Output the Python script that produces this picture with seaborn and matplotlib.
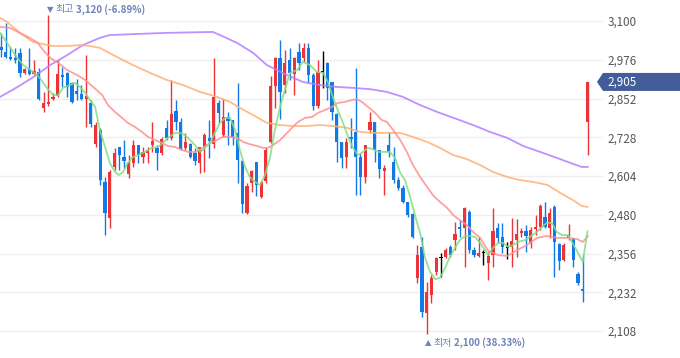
import numpy as np
import pandas as pd
import matplotlib
matplotlib.use("Agg")
import matplotlib.pyplot as plt
from matplotlib.patches import Polygon
from matplotlib.transforms import IdentityTransform
import seaborn as sns

# daily candles
opens = [3017, 3001, 2985, 2982, 2998, 2934, 2946, 2930, 2937, 2822,
         2835, 2850, 2860, 2927, 2934, 2902, 2876, 2866, 2850, 2838,
         2706, 2751, 2585, 2470, 2633, 2697, 2665, 2610, 2646, 2703,
         2665, 2678, 2703, 2694, 2678, 2758, 2726, 2812, 2777, 2694,
         2706, 2678, 2646, 2697, 2726, 2706, 2838, 2735, 2793, 2783,
         2742, 2652, 2486, 2582, 2649, 2537, 2588, 2713, 2892, 2982,
         2895, 2975, 2930, 3001, 2982, 3014, 2927, 2828, 2937, 2966,
         2905, 2802, 2713, 2665, 2729, 2745, 2665, 2601, 2751, 2777,
         2687, 2620, 2703, 2649, 2591, 2566, 2521, 2483, 2278, 2377,
         2166, 2223, 2297, 2342, 2345, 2377, 2399, 2441, 2438, 2489,
         2367, 2349, 2358, 2326, 2351, 2438, 2409, 2374, 2377, 2399,
         2422, 2428, 2390, 2434, 2441, 2473, 2438, 2505, 2386, 2335,
         2406, 2406, 2290, 2243, 2777]
highs = [3062, 3094, 3017, 3014, 3014, 2950, 3014, 2975, 2950, 2873,
         3120, 2870, 2975, 2953, 2937, 2905, 2914, 2895, 2991, 2847,
         2777, 2758, 2601, 2623, 2694, 2697, 2719, 2671, 2719, 2703,
         2697, 2697, 2777, 2703, 2729, 2783, 2911, 2847, 2790, 2742,
         2710, 2694, 2697, 2742, 2783, 2982, 2847, 2851, 2809, 2783,
         2902, 2655, 2582, 2623, 2649, 2588, 2697, 2924, 2985, 3039,
         3007, 3014, 2985, 3030, 3030, 3030, 2934, 2975, 3004, 2969,
         2905, 2806, 2713, 2726, 2790, 2950, 2678, 2703, 2809, 2777,
         2687, 2639, 2745, 2697, 2601, 2575, 2521, 2486, 2383, 2409,
         2265, 2287, 2345, 2358, 2374, 2383, 2457, 2463, 2505, 2495,
         2377, 2409, 2367, 2361, 2502, 2454, 2454, 2393, 2470, 2466,
         2438, 2447, 2441, 2479, 2514, 2521, 2502, 2511, 2390, 2390,
         2450, 2406, 2297, 2351, 2905]
lows = [2985, 2982, 2975, 2966, 2921, 2930, 2927, 2927, 2847, 2809,
        2828, 2847, 2857, 2889, 2857, 2838, 2847, 2847, 2761, 2761,
        2697, 2575, 2415, 2438, 2623, 2623, 2630, 2598, 2633, 2646,
        2646, 2646, 2681, 2623, 2671, 2719, 2719, 2751, 2687, 2687,
        2662, 2639, 2614, 2617, 2662, 2694, 2774, 2729, 2703, 2703,
        2582, 2486, 2483, 2553, 2540, 2534, 2582, 2710, 2822, 2786,
        2870, 2911, 2863, 2943, 2969, 2902, 2815, 2822, 2886, 2847,
        2783, 2649, 2630, 2630, 2694, 2543, 2543, 2582, 2742, 2649,
        2598, 2543, 2665, 2582, 2559, 2518, 2473, 2406, 2262, 2153,
        2100, 2198, 2287, 2281, 2342, 2345, 2367, 2409, 2313, 2358,
        2345, 2345, 2319, 2271, 2313, 2390, 2358, 2338, 2313, 2345,
        2409, 2361, 2374, 2415, 2431, 2438, 2406, 2281, 2303, 2332,
        2399, 2313, 2255, 2201, 2671]
closes = [3007, 2985, 2978, 2975, 2934, 2946, 2930, 2940, 2850, 2838,
          2841, 2857, 2930, 2921, 2889, 2841, 2866, 2850, 2860, 2770,
          2767, 2591, 2486, 2617, 2678, 2671, 2652, 2646, 2703, 2671,
          2681, 2687, 2716, 2678, 2722, 2726, 2802, 2777, 2690, 2713,
          2665, 2652, 2697, 2735, 2716, 2857, 2806, 2793, 2780, 2726,
          2655, 2514, 2572, 2620, 2575, 2585, 2687, 2892, 2982, 2873,
          2966, 2934, 2982, 2966, 3014, 2927, 2828, 2937, 2937, 2886,
          2809, 2713, 2662, 2713, 2722, 2665, 2601, 2703, 2777, 2687,
          2626, 2630, 2680, 2591, 2566, 2521, 2479, 2409, 2351, 2169,
          2233, 2278, 2342, 2342, 2367, 2351, 2418, 2434, 2502, 2367,
          2351, 2358, 2358, 2348, 2428, 2406, 2377, 2374, 2396, 2418,
          2428, 2412, 2431, 2441, 2508, 2441, 2486, 2393, 2332, 2383,
          2412, 2335, 2262, 2236, 2905]

# moving averages read as (candle index, price)
ma5 = [(-0.2, 3062), (1.3, 3030), (3.0, 2991), (4.7, 2959), (6.8, 2937), (8.2, 2918),
       (9.7, 2886), (11.0, 2863), (12.1, 2863), (13.1, 2886), (14.6, 2895), (15.6, 2902),
       (16.7, 2889), (17.8, 2870), (18.8, 2847), (19.9, 2825), (20.9, 2751), (22.0, 2697),
       (23.0, 2646), (24.1, 2617), (24.9, 2607), (25.8, 2617), (26.8, 2646), (27.9, 2665),
       (29.0, 2671), (30.4, 2681), (31.9, 2694), (33.2, 2697), (34.2, 2710), (35.3, 2726),
       (36.8, 2742), (37.8, 2742), (38.9, 2735), (40.4, 2713), (41.0, 2703), (42.1, 2681),
       (43.1, 2694), (44.2, 2710), (45.2, 2742), (46.3, 2774), (47.4, 2790), (48.4, 2790),
       (49.5, 2751), (50.5, 2687), (51.6, 2633), (52.6, 2601), (53.7, 2585), (54.8, 2575),
       (55.8, 2607), (56.9, 2665), (57.9, 2751), (59.0, 2825), (60.0, 2879), (61.1, 2934),
       (62.6, 2943), (63.8, 2969), (65.3, 2959), (66.8, 2937), (68.1, 2934), (69.1, 2905),
       (70.2, 2854), (71.2, 2815), (72.3, 2774), (73.4, 2729), (74.4, 2694), (75.5, 2671),
       (76.5, 2681), (77.6, 2694), (78.6, 2690), (79.7, 2681), (81.2, 2681), (82.2, 2681),
       (83.3, 2662), (84.4, 2614), (85.4, 2591), (86.5, 2537), (87.5, 2479), (88.6, 2422),
       (89.6, 2345), (90.7, 2297), (91.8, 2274), (92.8, 2278), (93.9, 2310), (94.9, 2345),
       (96.0, 2374), (97.0, 2399), (98.1, 2412), (99.2, 2412), (100.2, 2409), (101.3, 2390),
       (102.3, 2367), (103.0, 2351), (104.0, 2374), (105.1, 2390), (106.1, 2390), (107.2, 2377),
       (108.2, 2383), (109.3, 2393), (110.8, 2399), (111.8, 2409), (113.3, 2425), (114.4, 2441),
       (115.4, 2454), (116.5, 2454), (117.5, 2425), (118.6, 2415), (119.9, 2415), (121.4, 2374),
       (123.0, 2329), (124.0, 2428)]
ma20 = [(-0.2, 3081), (1.9, 3078), (4.0, 3062), (6.1, 3046), (7.8, 3030), (8.9, 3007),
        (10.4, 2982), (12.1, 2966), (14.0, 2943), (16.1, 2927), (17.8, 2911), (19.5, 2889),
        (21.4, 2863), (22.6, 2831), (24.1, 2809), (25.6, 2790), (26.8, 2774), (28.3, 2761),
        (29.8, 2745), (31.1, 2729), (32.6, 2719), (34.0, 2710), (35.3, 2700), (36.8, 2697),
        (38.3, 2687), (39.5, 2681), (41.0, 2681), (42.7, 2694), (44.2, 2710), (45.7, 2719),
        (46.9, 2729), (48.4, 2729), (49.9, 2726), (51.2, 2713), (52.6, 2706), (54.1, 2700),
        (55.4, 2694), (56.4, 2694), (57.5, 2703), (59.0, 2719), (60.5, 2742), (61.5, 2758),
        (62.8, 2777), (64.3, 2790), (65.8, 2793), (67.0, 2806), (68.5, 2815), (70.0, 2825),
        (71.2, 2838), (72.7, 2841), (74.2, 2847), (75.3, 2850), (76.3, 2841), (77.6, 2825),
        (79.1, 2806), (80.5, 2783), (81.6, 2777), (82.9, 2751), (84.4, 2719), (85.8, 2681),
        (87.1, 2639), (88.6, 2601), (90.1, 2569), (91.3, 2543), (92.8, 2521), (94.3, 2502),
        (95.6, 2479), (97.0, 2463), (98.5, 2447), (99.8, 2425), (101.3, 2406), (103.0, 2364),
        (105.1, 2351), (107.0, 2348), (108.2, 2358), (109.1, 2367), (111.2, 2383), (113.3, 2406),
        (115.4, 2412), (117.5, 2406), (119.7, 2406), (121.8, 2402), (123.0, 2393), (124.1, 2412)]
ma60 = [(-0.2, 3110), (1.3, 3097), (2.5, 3081), (4.0, 3062), (5.5, 3046), (6.8, 3033),
        (8.9, 3026), (11.0, 3020), (14.0, 3020), (16.7, 3023), (18.8, 3020), (20.9, 3014),
        (24.5, 2985), (27.9, 2959), (31.5, 2934), (35.1, 2911), (38.5, 2895), (42.1, 2873),
        (45.7, 2857), (48.4, 2841), (50.5, 2822), (53.3, 2799), (56.2, 2774), (59.0, 2767),
        (61.7, 2764), (64.7, 2764), (67.4, 2767), (70.2, 2764), (73.2, 2758), (75.9, 2745),
        (78.6, 2742), (81.6, 2742), (84.4, 2742), (87.1, 2729), (90.1, 2713), (92.8, 2694),
        (95.6, 2671), (98.5, 2658), (101.3, 2639), (104.0, 2617), (107.0, 2601), (109.7, 2591),
        (112.5, 2585), (115.6, 2575), (118.2, 2550), (120.9, 2527), (122.8, 2508), (124.1, 2505)]
ma120 = [(-0.2, 2857), (3.4, 2888), (6.8, 2920), (10.4, 2959), (14.0, 2991), (17.3, 3023),
         (20.9, 3046), (23.0, 3055), (27.9, 3058), (35.1, 3062), (44.8, 3065), (46.3, 3055),
         (49.9, 3030), (53.3, 2998), (56.2, 2959), (60.5, 2927), (63.8, 2905), (67.4, 2895),
         (71.0, 2889), (74.4, 2886), (78.0, 2882), (81.6, 2873), (85.0, 2857), (88.6, 2831),
         (92.2, 2809), (96.4, 2786), (99.8, 2767), (103.4, 2745), (107.0, 2726), (110.4, 2700),
         (114.0, 2681), (117.5, 2662), (120.9, 2643), (122.8, 2633), (124.1, 2633)]

yticks = [2108, 2232, 2356, 2480, 2604, 2728, 2852, 2976, 3100]
high_text = ("▼", "최고", "3,120 (-6.89%)")
low_text = ("▲", "최저", "2,100 (38.33%)")

RED = "#ee3338"
BLUE = "#1379e6"
MARK = "#7082b6"

sns.set_theme(style="white")
plt.rcParams["font.family"] = ["Noto Sans CJK KR", "DejaVu Sans"]

fig = plt.figure(figsize=(6.8, 3.58), dpi=100)
ax = fig.add_axes([0, 0, 603 / 680, 1])

df = pd.DataFrame({"o": opens, "h": highs, "l": lows, "c": closes})
df["i"] = np.arange(len(df))
colors = np.where(df.c > df.o, RED, np.where(df.c < df.o, BLUE, "black"))
body = (df.c - df.o).abs()
height = np.maximum(body, 3)
bottom = np.where(body < 3, (df.o + df.c) / 2 - 1.5, np.minimum(df.o, df.c))

ax.vlines(df.i, df.l, df.h, colors=colors, lw=1, zorder=2)
ax.bar(df.i, height, bottom=bottom, width=0.68, color=colors, lw=0, zorder=3)

for data, col in [(ma120, "#b47dff"), (ma60, "#ffb075"), (ma20, "#ff9090"), (ma5, "#80de82")]:
    m = pd.DataFrame(data, columns=["i", "v"])
    sns.lineplot(x=m.i, y=m.v, ax=ax, color=col, lw=1.3, alpha=0.85,
                 estimator=None, sort=False, zorder=4)

ax.set_xlim(-0.21, 127.27)
ax.set_ylim(2021.6, 3167.2)
ax.set_xticks([])
ax.set_yticks(yticks)
ax.set_yticklabels([f"{t:,}" for t in yticks])
ax.yaxis.tick_right()
ax.tick_params(axis="y", length=0, pad=3, labelsize=8.4, labelcolor="#555555")
ax.grid(axis="y", color="#efefef", lw=1)
ax.set_axisbelow(True)
ax.set_xlabel("")
ax.set_ylabel("")
for s in ax.spines.values():
    s.set_visible(False)

# high / low markers
hi = int(np.argmax(highs))
lo = int(np.argmin(lows))
for idx, val, (arrow, lab, num), dy in [(hi, highs[hi], high_text, 5.5),
                                        (lo, lows[lo], low_text, -9.5)]:
    t0 = ax.annotate(arrow, xy=(idx, val), xytext=(-1.5, dy), textcoords="offset pixels",
                     ha="left", va="center", fontsize=6, color=MARK,
                     family=["DejaVu Sans"], annotation_clip=False)
    t1 = ax.annotate(lab, xy=(1, 0.5), xycoords=t0, xytext=(2, 0), textcoords="offset pixels",
                     ha="left", va="center", fontsize=7.2, color=MARK)
    ax.annotate(num, xy=(1, 0.5), xycoords=t1, xytext=(2, 0), textcoords="offset pixels",
                ha="left", va="center", fontsize=7.0, color=MARK, fontweight="bold")

# current price tag
yc = ax.transData.transform((0, closes[-1]))[1]
tag = Polygon([(597, yc), (603, yc + 9), (680, yc + 9), (680, yc - 9), (603, yc - 9)],
              closed=True, transform=IdentityTransform(), fc="#435d9a", ec="none")
fig.add_artist(tag)
fig.text(607 / 680, yc / 358, f"{closes[-1]:,}", color="white", va="center",
         ha="left", fontsize=8.4)

fig.savefig("out.png", dpi=100)
